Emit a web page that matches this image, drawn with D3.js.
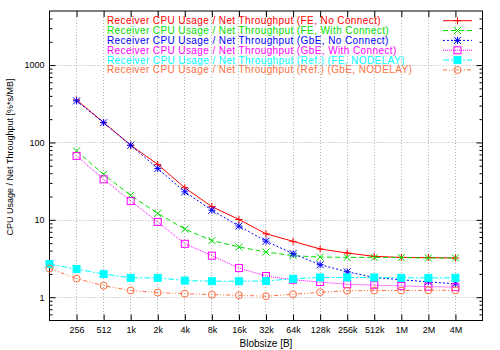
<!DOCTYPE html>
<html>
<head>
<meta charset="utf-8">
<script src="https://cdn.jsdelivr.net/npm/d3@7"></script>
<style>
  body { margin: 0; background: #fff; }
  svg { display: block; font-family: "Liberation Sans", Arial, sans-serif; }
</style>
</head>
<body>
<svg id="chart" width="500" height="350"></svg>
<script>
// blob sizes in bytes (x positions) and the tick labels shown under them
var blobsizes = [128, 256, 512, 1024, 2048, 4096, 8192, 16384, 32768, 65536,
  131072, 262144, 524288, 1048576, 2097152, 4194304];
var tickSizes = blobsizes.slice(1);
var tickLabels = ["256", "512", "1k", "2k", "4k", "8k", "16k", "32k", "64k",
  "128k", "256k", "512k", "1M", "2M", "4M"];
var yTicks = [1, 10, 100, 1000];

// series values, null = no measurement at that blob size
var feNoConnect = [null, 355, 181, 92, 52, 26, 14.8, 10.1, 6.6, 5.27, 4.2, 3.73, 3.37, 3.27, 3.25, 3.21];
var feWithConnect = [null, 77.8, 38.7, 20.7, 12.1, 7.6, 5.4, 4.46, 3.84, 3.44, 3.3, 3.27, 3.27, 3.25, 3.21, 3.21];
var gbeNoConnect = [null, 345, 180, 92, 46, 23, 13.3, 8.3, 5.3, 3.65, 2.63, 2.13, 1.8, 1.68, 1.58, 1.49];
var gbeWithConnect = [null, 67, 33.4, 17.5, 9.4, 4.9, 3.44, 2.38, 1.88, 1.68, 1.57, 1.47, 1.43, 1.4, 1.37, 1.35];
var refFeNodelay = [2.68, 2.31, 1.99, 1.78, 1.78, 1.64, 1.61, 1.61, 1.62, 1.73, 1.8, 1.8, 1.8, 1.78, 1.78, 1.78];
var refGbeNodelay = [2.35, 1.74, 1.41, 1.22, 1.15, 1.11, 1.08, 1.06, 1.03, 1.09, 1.16, 1.21, 1.22, 1.22, 1.23, 1.23];

var seriesNames = [
  "Receiver CPU Usage / Net Throughput (FE, No Connect)",
  "Receiver CPU Usage / Net Throughput (FE, With Connect)",
  "Receiver CPU Usage / Net Throughput (GbE, No Connect)",
  "Receiver CPU Usage / Net Throughput (GbE, With Connect)",
  "Receiver CPU Usage / Net Throughput (Ref.) (FE, NODELAY)",
  "Receiver CPU Usage / Net Throughput (Ref.) (GbE, NODELAY)"
];
var seriesValues = [feNoConnect, feWithConnect, gbeNoConnect, gbeWithConnect, refFeNodelay, refGbeNodelay];

// styling per series
var colors = ["#ff0000", "#00e000", "#0000ff", "#ff00ff", "#00ffff", "#ff7040"];
var dashes = [null, "5,3", "2,2", "1,1", "6,2,2,2", "4,2,1,2,1,2"];
var markers = ["plus", "cross", "star", "square", "filledSquare", "circle"];

// plot area
var margin = { top: 11, right: 17.5, bottom: 29.5, left: 49.5 };
var width = 500 - margin.left - margin.right;
var height = 350 - margin.top - margin.bottom;

var svg = d3.select("#chart");
var g = svg.append("g")
  .attr("transform", "translate(" + margin.left + "," + margin.top + ")");

var x = d3.scaleLog().base(2).domain([128, 8388608]).range([0, width]);
var y = d3.scaleLog().domain([0.5, 5000]).range([height, 0]);

// minor y ticks (2..9 per decade)
var minorY = [];
[0.1, 1, 10, 100, 1000].forEach(function (d) {
  for (var k = 2; k <= 9; k++) {
    var v = d * k;
    if (v > 0.5 && v < 5000 && yTicks.indexOf(v) < 0) minorY.push(v);
  }
});

// grid
g.append("g").selectAll("line.gx")
  .data(tickSizes)
  .join("line")
  .attr("x1", function (d) { return Math.round(x(d)); })
  .attr("x2", function (d) { return Math.round(x(d)); })
  .attr("y1", 0).attr("y2", height)
  .attr("stroke", "#b0b0b0").attr("stroke-dasharray", "1,2");
g.append("g").selectAll("line.gy")
  .data(yTicks)
  .join("line")
  .attr("x1", 0).attr("x2", width)
  .attr("y1", function (d) { return Math.round(y(d)) + 0.5; })
  .attr("y2", function (d) { return Math.round(y(d)) + 0.5; })
  .attr("stroke", "#b0b0b0").attr("stroke-dasharray", "1,2");

// axes with inward ticks on all four sides
var tickFmt = function (d) { return tickLabels[tickSizes.indexOf(d)]; };
g.append("g")
  .attr("transform", "translate(0," + height + ")")
  .call(d3.axisBottom(x).tickValues(tickSizes).tickFormat(tickFmt).tickSizeInner(-6).tickSizeOuter(0).tickPadding(6));
g.append("g")
  .call(d3.axisTop(x).tickValues(tickSizes).tickFormat("").tickSizeInner(-6).tickSizeOuter(0));
g.append("g")
  .call(d3.axisLeft(y).tickValues(yTicks).tickFormat(d3.format("d")).tickSizeInner(-6).tickSizeOuter(0).tickPadding(5));
g.append("g")
  .attr("transform", "translate(" + width + ",0)")
  .call(d3.axisRight(y).tickValues(yTicks).tickFormat("").tickSizeInner(-6).tickSizeOuter(0));
g.append("g")
  .call(d3.axisLeft(y).tickValues(minorY).tickFormat("").tickSizeInner(-3).tickSizeOuter(0));
g.append("g")
  .attr("transform", "translate(" + width + ",0)")
  .call(d3.axisRight(y).tickValues(minorY).tickFormat("").tickSizeInner(-3).tickSizeOuter(0));

g.selectAll(".domain").remove();
g.selectAll(".tick line").attr("stroke", "#000");
g.selectAll(".tick text")
  .attr("font-family", "Liberation Sans, Arial, sans-serif")
  .attr("font-size", 9).attr("fill", "#000");

// frame
g.append("rect")
  .attr("width", width).attr("height", height)
  .attr("fill", "none").attr("stroke", "#000");

// axis titles
svg.append("text")
  .attr("x", margin.left + width / 2).attr("y", 347)
  .attr("text-anchor", "middle").attr("font-size", 10)
  .text("Blobsize [B]");
svg.append("text")
  .attr("transform", "translate(13,157) rotate(-90)")
  .attr("text-anchor", "middle").attr("font-size", 9)
  .text("CPU Usage / Net Throughput [%*s/MB]");

// draw one marker of given type at (cx, cy)
function drawMarker(sel, type, cx, cy, color) {
  var s = 3.5;
  if (type === "plus" || type === "star") {
    sel.append("path")
      .attr("d", "M" + (cx - s) + "," + cy + "H" + (cx + s) + "M" + cx + "," + (cy - s) + "V" + (cy + s))
      .attr("stroke", color).attr("fill", "none");
  }
  if (type === "cross" || type === "star") {
    sel.append("path")
      .attr("d", "M" + (cx - s) + "," + (cy - s) + "L" + (cx + s) + "," + (cy + s) + "M" + (cx - s) + "," + (cy + s) + "L" + (cx + s) + "," + (cy - s))
      .attr("stroke", color).attr("fill", "none");
  }
  if (type === "square" || type === "filledSquare") {
    sel.append("rect")
      .attr("x", cx - s).attr("y", cy - s).attr("width", 2 * s).attr("height", 2 * s)
      .attr("stroke", color)
      .attr("fill", type === "filledSquare" ? color : "none");
  }
  if (type === "circle") {
    sel.append("circle")
      .attr("cx", cx).attr("cy", cy).attr("r", s)
      .attr("stroke", color).attr("fill", "none");
  }
}

var line = d3.line()
  .defined(function (d) { return d[1] != null; })
  .x(function (d) { return x(d[0]); })
  .y(function (d) { return y(d[1]); });

// series lines and points
seriesValues.forEach(function (vals, i) {
  var pts = blobsizes.map(function (b, j) { return [b, vals[j]]; });
  var sg = g.append("g");
  sg.append("path")
    .attr("d", line(pts))
    .attr("fill", "none")
    .attr("stroke", colors[i])
    .attr("stroke-dasharray", dashes[i]);
  pts.filter(function (d) { return d[1] != null; }).forEach(function (d) {
    drawMarker(sg, markers[i], x(d[0]), y(d[1]), colors[i]);
  });
});

// legend
var legend = svg.append("g");
seriesNames.forEach(function (name, i) {
  var ly = 20.7 + i * 9.85;
  legend.append("text")
    .attr("x", 107).attr("y", ly + 3.5)
    .attr("font-size", 10).attr("letter-spacing", 0.4).attr("fill", colors[i])
    .text(name);
  legend.append("line")
    .attr("x1", 443).attr("x2", 472)
    .attr("y1", ly).attr("y2", ly)
    .attr("stroke", colors[i]).attr("stroke-dasharray", dashes[i]);
  drawMarker(legend, markers[i], 457.5, ly, colors[i]);
});
</script>
</body>
</html>
